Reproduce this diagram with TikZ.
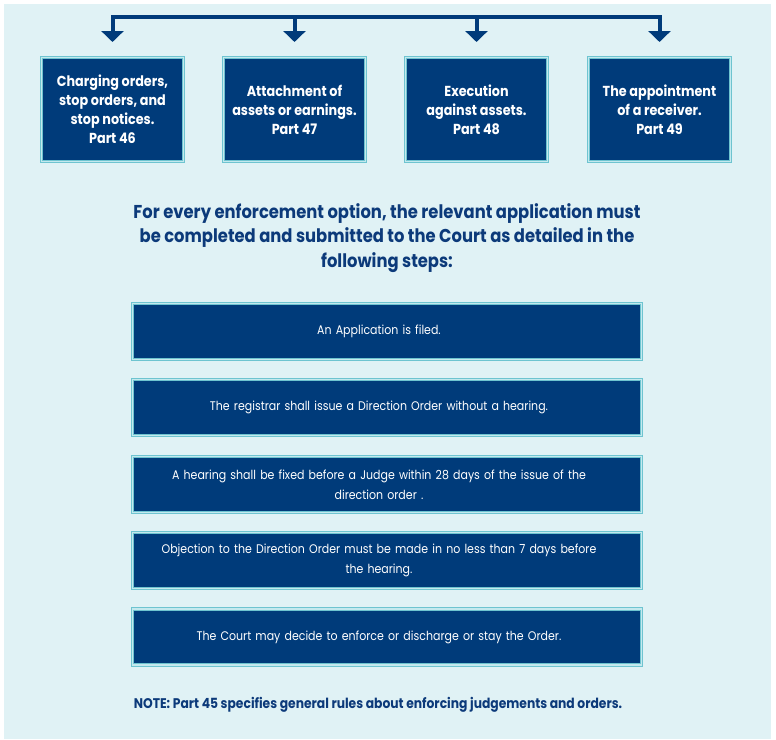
\documentclass[tikz,border=0pt]{standalone}
\usepackage{fontspec}
\setmainfont{Poppins}[FakeStretch=0.88]
\usetikzlibrary{arrows.meta}
\definecolor{navy}{RGB}{0,59,122}
\definecolor{rim}{RGB}{110,196,208}
\definecolor{rimlight}{RGB}{196,233,238}
\definecolor{paper}{RGB}{224,242,245}
\definecolor{inkblue}{RGB}{12,58,122}
\tikzset{
	partbox/.style={draw=rim,line width=1pt,double=rimlight,double distance=1.2pt,fill=navy,text=white,
		minimum width=142,minimum height=104,align=center,font=\fontsize{14.5}{19}\selectfont\bfseries},
	stepbox/.style={draw=rim,line width=1pt,double=rimlight,double distance=1.2pt,fill=navy,text=white,
		minimum width=509,minimum height=56,align=center,text width=480,font=\fontsize{12.5}{20}\selectfont,
		execute at begin node={\leftskip=0pt plus 1fil\rightskip=16pt plus 1fil\parfillskip=0pt\relax}},
	drop/.style={draw=navy,line width=4pt,-{Triangle[width=22pt,length=11pt]}},
}
\begin{document}
\begin{tikzpicture}[x=1pt,y=-1pt]
	\useasboundingbox (0,0) rectangle (776,739);
	\fill[paper] (4,4) rectangle (771,739);
	% enforcement options
	\node[partbox] (p46) at (112.5,109.5) {Charging orders,\\stop orders, and\\stop notices.\\Part 46};
	\node[partbox] (p47) at (294.5,109.5) {Attachment of\\assets or earnings.\\Part 47};
	\node[partbox] (p48) at (476.5,109.5) {Execution\\against assets.\\Part 48};
	\node[partbox] (p49) at (659.5,109.5) {The appointment\\of a receiver.\\Part 49};
	\coordinate (bar) at (0,17);
	\draw[navy,line width=4pt] (p46 |- bar)--(p49 |- bar);
	\foreach \p in {p46,p47,p48,p49}
		\draw[drop] ([yshift=2pt]\p |- bar)--([yshift=15pt]\p.north);
	\node[text=inkblue,align=center,font=\fontsize{18.6}{24.5}\selectfont\bfseries] (head) at (387,238)
		{For every enforcement option, the relevant application must\\be completed and submitted to the Court as detailed in the\\following steps:};
	% steps
	\node[stepbox] (s1) at (387,331.5) {An Application is filed.};
	\node[stepbox] (s2) at (387,407.5) {The registrar shall issue a Direction Order without a hearing.};
	\node[stepbox] (s3) at (387,484.5) {A hearing shall be fixed before a Judge within 28 days of the issue of the\\direction order .};
	\node[stepbox] (s4) at (387,560.5) {Objection to the Direction Order must be made in no less than 7 days before\\the hearing.};
	\node[stepbox] (s5) at (387,637) {The Court may decide to enforce or discharge or stay the Order.};
	\node[text=inkblue,font=\fontsize{14}{16}\selectfont\bfseries] (note) at (378,705)
		{NOTE: Part 45 specifies general rules about enforcing judgements and orders.};
\end{tikzpicture}
\end{document}
